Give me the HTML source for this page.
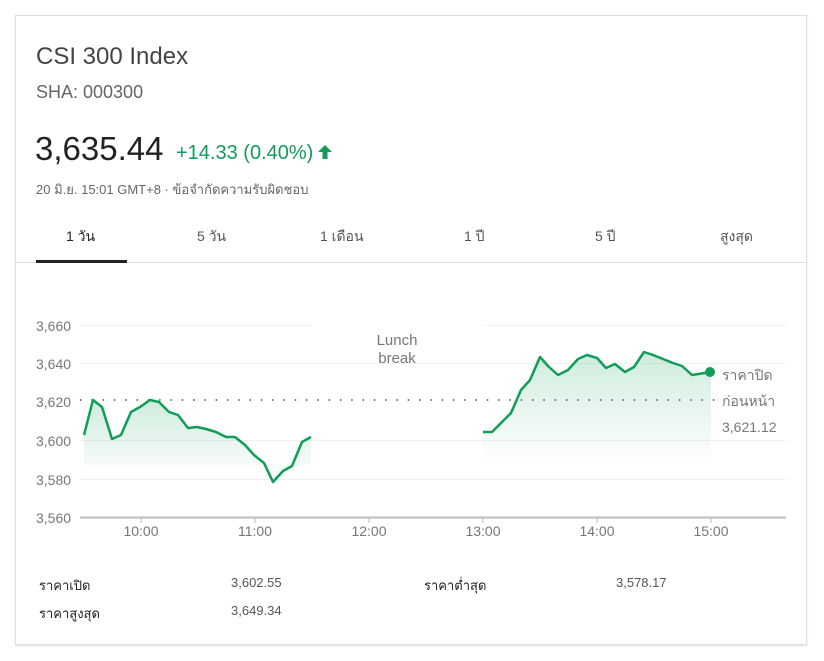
<!DOCTYPE html>
<html><head><meta charset="utf-8"><style>
body{margin:0;width:824px;height:661px;background:#fff;font-family:"Liberation Sans",Arial,sans-serif;position:relative;overflow:hidden}
.card{position:absolute;left:15px;top:15px;width:790px;height:628px;border:1px solid #e0e0e0;box-shadow:0 1px 2px rgba(0,0,0,.12)}
.t{position:absolute;white-space:nowrap}
</style></head><body>
<div class="card"></div>
<div class="t" style="left:36px;top:43px;font-size:24px;color:#444">CSI 300 Index</div>
<div class="t" style="left:36px;top:82px;font-size:18px;color:#666">SHA: 000300</div>
<div class="t" style="left:35px;top:130px;font-size:33px;color:#222">3,635.44</div>
<div class="t" style="left:176px;top:142px;font-size:20px;color:#0f9d58">+14.33 (0.40%)</div>
<svg style="position:absolute;left:317px;top:144px" width="16" height="16"><path d="M8 1 L15 8 L10.5 8 L10.5 15 L5.5 15 L5.5 8 L1 8Z" fill="#0f9d58"/></svg>
<div class="t" style="left:36px;top:179px;font-size:13px;color:#666">20 มิ.ย. 15:01 GMT+8 · ข้อจำกัดความรับผิดชอบ</div>
<div class="t" style="left:66px;top:226px;font-size:14px;color:#222">1 วัน</div>
<div class="t" style="left:197px;top:226px;font-size:14px;color:#555">5 วัน</div>
<div class="t" style="left:320px;top:226px;font-size:14px;color:#555">1 เดือน</div>
<div class="t" style="left:464px;top:226px;font-size:14px;color:#555">1 ปี</div>
<div class="t" style="left:595px;top:226px;font-size:14px;color:#555">5 ปี</div>
<div class="t" style="left:720px;top:226px;font-size:14px;color:#555">สูงสุด</div>
<div style="position:absolute;left:16px;top:262px;width:790px;height:1px;background:#e0e0e0"></div>
<div style="position:absolute;left:36px;top:260px;width:91px;height:3px;background:#222"></div>
<svg style="position:absolute;left:0;top:0" width="824" height="661">
<defs><linearGradient id="g" x1="0" y1="0" x2="0" y2="1"><stop offset="0" stop-color="#0f9d58" stop-opacity=".2"/><stop offset="1" stop-color="#0f9d58" stop-opacity="0"/></linearGradient></defs>
<g stroke="#f1f1f1" stroke-width="1">
<line x1="80" y1="325.5" x2="312" y2="325.5"/><line x1="483" y1="325.5" x2="786" y2="325.5"/>
<line x1="80" y1="363.5" x2="786" y2="363.5"/><line x1="80" y1="440.5" x2="786" y2="440.5"/><line x1="80" y1="479.5" x2="786" y2="479.5"/>
</g>
<line x1="80" y1="517.5" x2="786" y2="517.5" stroke="#bbb" stroke-width="2"/>
<g stroke="#bbb"><line x1="141" y1="517" x2="141" y2="523"/><line x1="255" y1="517" x2="255" y2="523"/><line x1="369" y1="517" x2="369" y2="523"/><line x1="483" y1="517" x2="483" y2="523"/><line x1="597" y1="517" x2="597" y2="523"/><line x1="711" y1="517" x2="711" y2="523"/></g>
<line x1="80" y1="400" x2="720" y2="400" stroke="#777" stroke-width="2" stroke-dasharray="1.5,9.8"/>
<g font-size="14" fill="#777" font-family="Liberation Sans,Arial,sans-serif">
<text x="36" y="331">3,660</text><text x="36" y="369">3,640</text><text x="36" y="407">3,620</text><text x="36" y="446">3,600</text><text x="36" y="485">3,580</text><text x="36" y="523">3,560</text>
<text x="141" y="536" text-anchor="middle">10:00</text><text x="255" y="536" text-anchor="middle">11:00</text><text x="369" y="536" text-anchor="middle">12:00</text><text x="483" y="536" text-anchor="middle">13:00</text><text x="597" y="536" text-anchor="middle">14:00</text><text x="711" y="536" text-anchor="middle">15:00</text>
<text x="397" y="345" text-anchor="middle" font-size="15">Lunch</text><text x="397" y="363" text-anchor="middle" font-size="15">break</text>
<text x="722" y="380">ราคาปิด</text><text x="722" y="406">ก่อนหน้า</text><text x="722" y="432">3,621.12</text>
</g>
<path d="M84,435 93,400 102,407 112,439 121,435 131,412 140,407 150,400 159,402 169,412 178,415 188,428 197,427 206,429 216,432 226,437 235,437 245,445 254,455 264,463 273,482 283,471 292,466 302,442 311,437 L311,465 84,465Z" fill="url(#g)"/>
<path d="M483,432 492,432 502,422 511,413 521,390 530,380 540,357 549,367 558,375 568,370 578,359 587,355 597,358 606,368 615,364 625,372 634,367 644,352 653,355 663,359 673,363 682,366 692,375 711,372 L711,465 483,465Z" fill="url(#g)"/>
<g fill="none" stroke="#0f9d58" stroke-width="2.5" stroke-linejoin="round">
<polyline points="84,435 93,400 102,407 112,439 121,435 131,412 140,407 150,400 159,402 169,412 178,415 188,428 197,427 206,429 216,432 226,437 235,437 245,445 254,455 264,463 273,482 283,471 292,466 302,442 311,437"/>
<polyline points="483,432 492,432 502,422 511,413 521,390 530,380 540,357 549,367 558,375 568,370 578,359 587,355 597,358 606,368 615,364 625,372 634,367 644,352 653,355 663,359 673,363 682,366 692,375 711,372"/>
</g>
<circle cx="710" cy="372" r="5" fill="#0f9d58"/>
</svg>
<div class="t" style="left:39px;top:575px;font-size:13px;color:#222">ราคาเปิด</div>
<div class="t" style="left:231px;top:575px;font-size:13px;color:#555">3,602.55</div>
<div class="t" style="left:424px;top:575px;font-size:13px;color:#222">ราคาต่ำสุด</div>
<div class="t" style="left:616px;top:575px;font-size:13px;color:#555">3,578.17</div>
<div class="t" style="left:39px;top:603px;font-size:13px;color:#222">ราคาสูงสุด</div>
<div class="t" style="left:231px;top:603px;font-size:13px;color:#555">3,649.34</div>
</body></html>
